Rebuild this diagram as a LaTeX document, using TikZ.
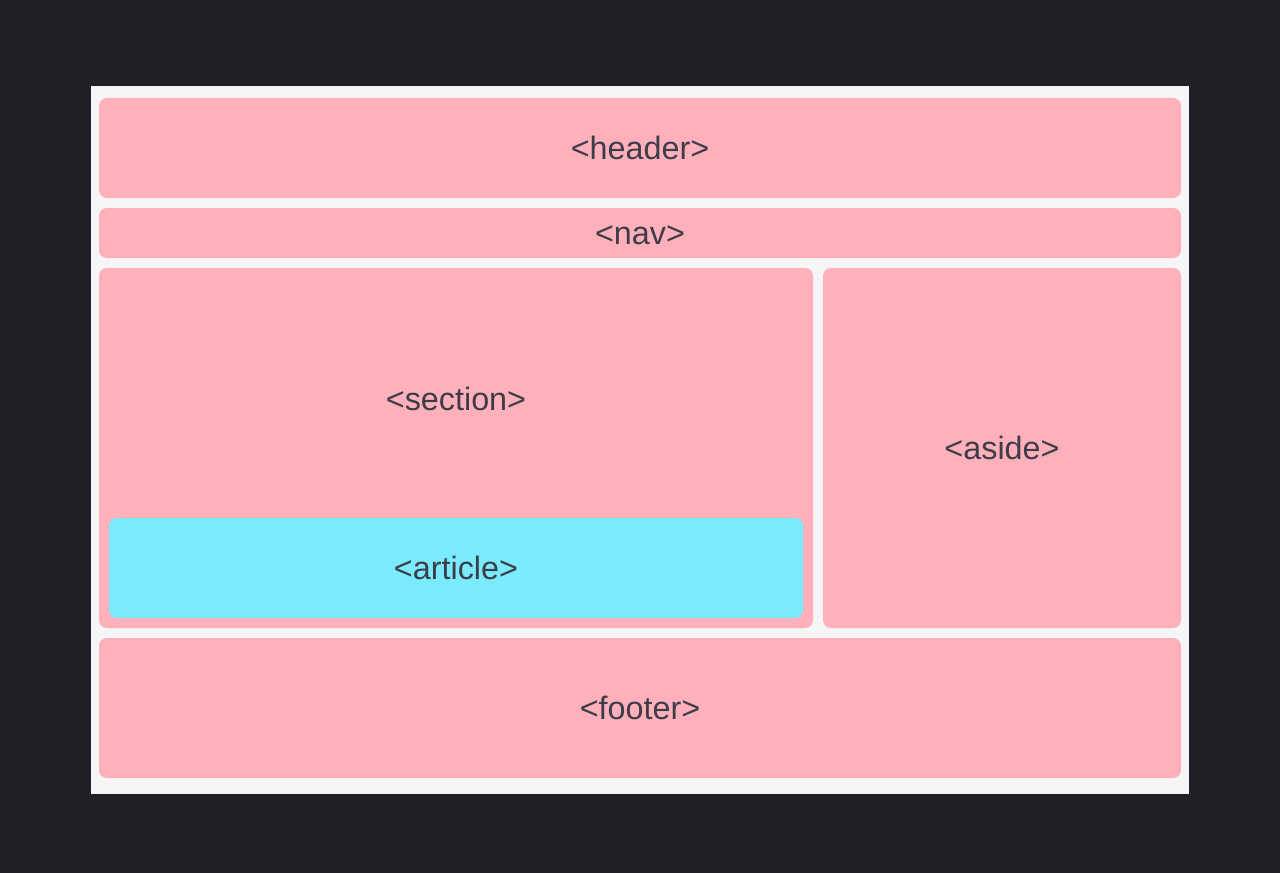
\documentclass[tikz,border=0pt]{standalone}
\usepackage{fontspec}
\setmainfont{Liberation Sans}
\usepackage{xcolor}
\definecolor{pagedark}{HTML}{1F2025}
\definecolor{panelgray}{HTML}{F4F5F4}
\definecolor{boxpink}{HTML}{FFB0BB}
\definecolor{boxcyan}{HTML}{7AEAFD}
\definecolor{labelgray}{HTML}{3D3D4A}
\newlength\pxu
\setlength\pxu{0.025cm}

\begin{document}
\begin{tikzpicture}[x=0.025cm, y=-0.025cm,
    tagtext/.style={text=labelgray, font=\fontsize{23}{27}\selectfont, inner sep=0pt,
      text height=20.8pt, text depth=4.9pt},
    tagbox/.style={tagtext, fill=boxpink, rounded corners=8\pxu}]
    %% one unit = one pixel of the 1280 x 873 page, y grows downwards
    %% panel: x in [91, 1189], y in [86, 794]

    % ---- PAGE AND PANEL ----
    \fill[pagedark]   (0, 0)   rectangle (1280, 873);
    \fill[panelgray]  (91, 86) rectangle (1189, 794);

    % ---- FULL-WIDTH ROWS ----
    \node[tagbox, minimum width=1082\pxu, minimum height=100\pxu] (header) at (640, 148) {<header>};
    \node[tagbox, minimum width=1082\pxu, minimum height=50\pxu]  (nav)    at (640, 233) {<nav>};

    % ---- MIDDLE ROW ----
    \node[tagbox, minimum width=714\pxu, minimum height=360\pxu]  (section) at (456, 448) {};
    \node[tagtext] (sectionlabel) at (456, 399) {<section>};
    \node[tagbox, fill=boxcyan, minimum width=694\pxu, minimum height=100\pxu] (article) at (456, 568) {<article>};
    \node[tagbox, minimum width=358\pxu, minimum height=360\pxu]  (aside)   at (1002, 448) {<aside>};

    % ---- FOOTER ----
    \node[tagbox, minimum width=1082\pxu, minimum height=140\pxu] (footer) at (640, 708) {<footer>};

  \end{tikzpicture}
\end{document}
